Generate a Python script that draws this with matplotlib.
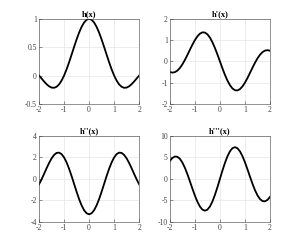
import matplotlib
matplotlib.use("Agg")
import matplotlib.pyplot as plt

x_pos = [0.0, 0.1, 0.2, 0.3, 0.4, 0.5, 0.6, 0.7, 0.8, 0.9, 1.0,
         1.1, 1.2, 1.3, 1.4, 1.5, 1.6, 1.7, 1.8, 1.9, 2.0]

# values for x >= 0; h, h'' even, h', h''' odd
h0_pos = [1.0, 0.98363, 0.93549, 0.85839, 0.75683, 0.63662, 0.50455, 0.36788,
          0.23387, 0.10929, 0.0, -0.08942, -0.15592, -0.19809, -0.21624,
          -0.21221, -0.18921, -0.15148, -0.10394, -0.05177, 0.0]
h1_pos = [0.0, -0.32575, -0.63237, -0.90203, -1.11953, -1.27324, -1.35595,
          -1.36524, -1.30361, -1.17816, -1.0, -0.78331, -0.54425, -0.29976,
          -0.06627, 0.14147, 0.31139, 0.43486, 0.50720, 0.52780, 0.5]
h2_pos = [-3.28987, -3.19303, -2.90933, -2.45849, -1.87196, -1.19023, -0.45990,
          0.26983, 0.95081, 1.53947, 2.0, 2.30675, 2.44590, 2.41628, 2.22884,
          1.90578, 1.47816, 0.98346, 0.46232, -0.04463, -0.5]
h3_pos = [0.0, 1.92539, 3.71604, 5.24750, 6.41520, 7.14134, 7.38269, 7.13107,
          6.41541, 5.29786, 3.86960, 2.24212, 0.53917, -1.11350, -2.59761,
          -3.81154, -4.67773, -5.14804, -5.20642, -4.86979, -4.18478]

titles = ["h(x)", "h'(x)", "h''(x)", "h'''(x)"]
ylims = [(-0.5, 1), (-2, 2), (-4, 4), (-10, 10)]
yticks = [[-0.5, 0, 0.5, 1], [-2, -1, 0, 1, 2], [-4, -2, 0, 2, 4],
          [-10, -5, 0, 5, 10]]
xticks = [-2, -1, 0, 1, 2]

def full(vals, odd):
    neg_x = [-v for v in x_pos[:0:-1]]
    neg_y = [(-v if odd else v) for v in vals[:0:-1]]
    return neg_x + x_pos, neg_y + vals

series = [full(h0_pos, False), full(h1_pos, True),
          full(h2_pos, False), full(h3_pos, True)]

plt.rcParams['font.family'] = ['Liberation Serif', 'DejaVu Serif']
plt.rcParams['axes.unicode_minus'] = False

fig = plt.figure(figsize=(2.98, 2.48), dpi=100)
rects = [(0.131, 0.581, 0.336, 0.343), (0.570, 0.581, 0.336, 0.343),
         (0.131, 0.105, 0.336, 0.347), (0.570, 0.105, 0.336, 0.347)]

for i in range(4):
    ax = fig.add_axes(rects[i])
    xs, ys = series[i]
    ax.plot(xs, ys, color='black', lw=1.3)
    ax.set_xlim(-2, 2)
    ax.set_ylim(*ylims[i])
    ax.set_xticks(xticks)
    ax.set_yticks(yticks[i])
    ax.set_xticklabels([str(t) for t in xticks])
    ax.set_yticklabels([("%g" % t) for t in yticks[i]])
    ax.grid(True, color='#e6e6e6', lw=0.5)
    ax.set_axisbelow(True)
    ax.tick_params(direction='in', length=2, width=0.4, labelsize=5.5,
                   colors='#404040', pad=1.5)
    for s in ax.spines.values():
        s.set_color('#404040')
        s.set_linewidth(0.4)
    ax.set_title(titles[i], fontsize=6, fontweight='bold', pad=2)

fig.savefig('out.png', dpi=100)
